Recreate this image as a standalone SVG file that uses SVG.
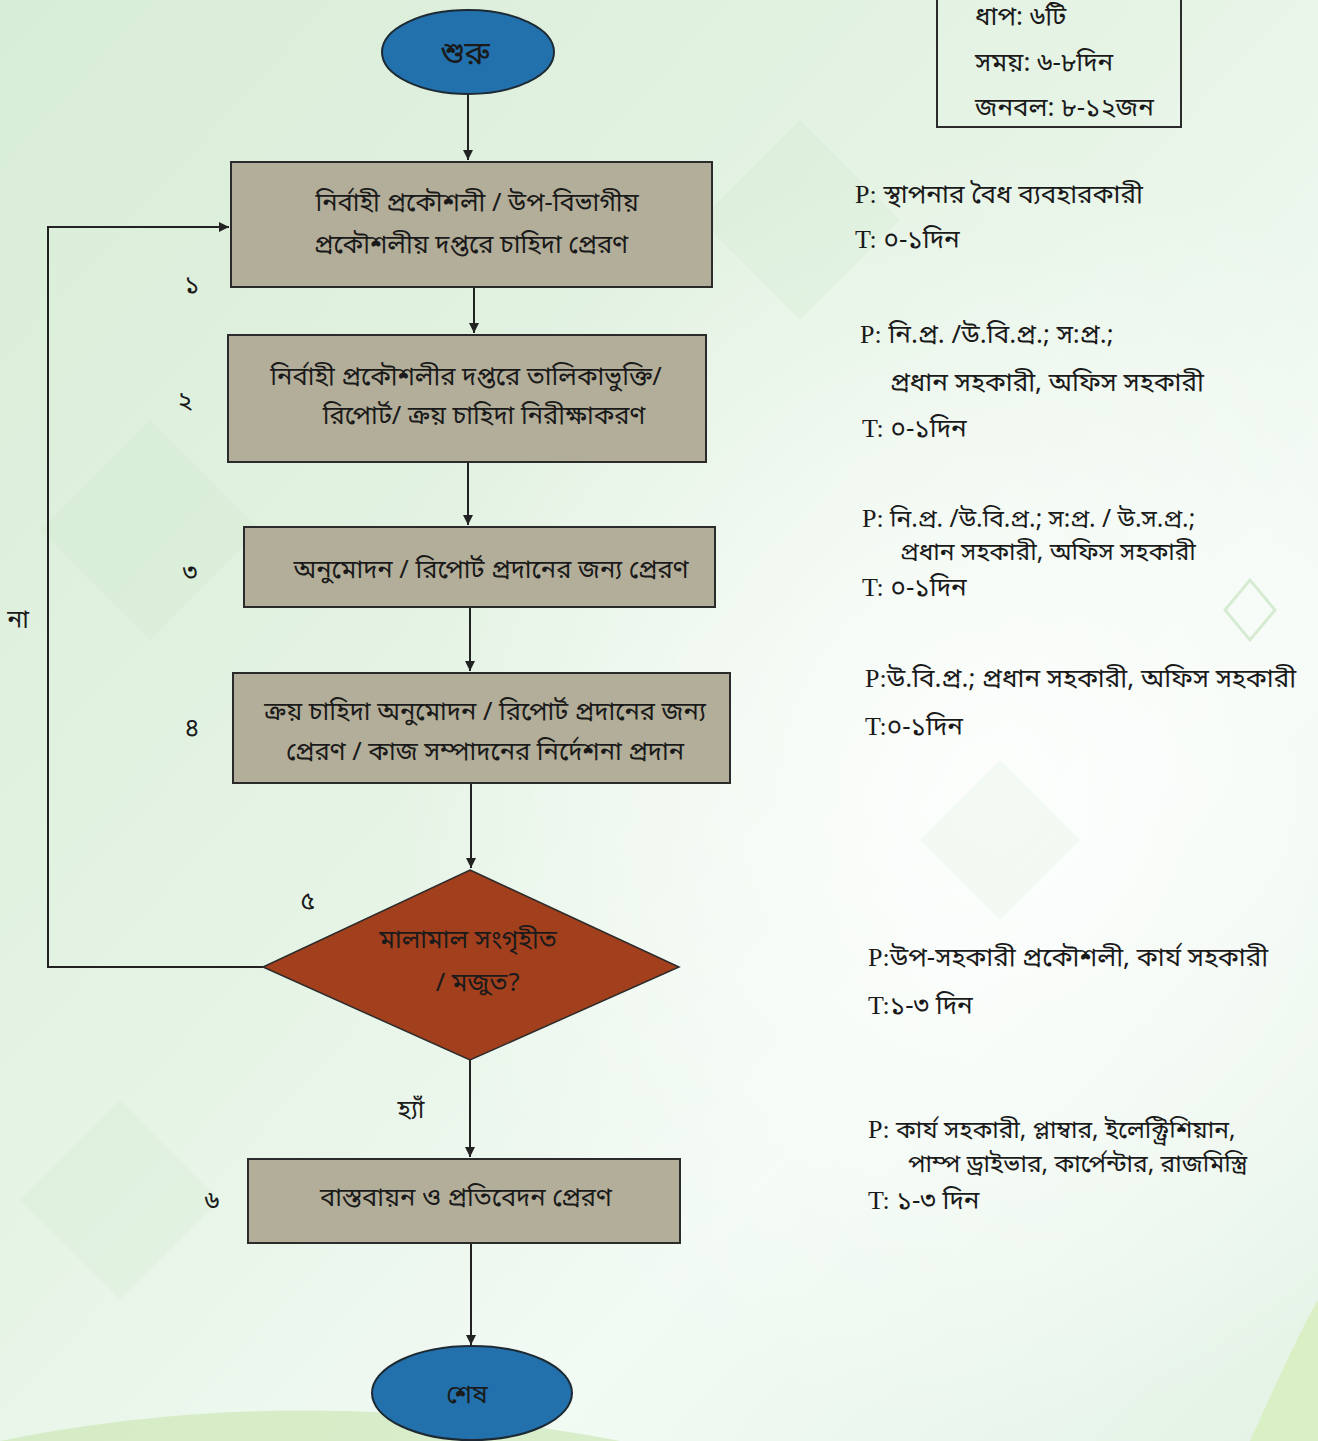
<svg xmlns="http://www.w3.org/2000/svg" width="1318" height="1441" viewBox="0 0 1318 1441">
<defs>
<linearGradient id="bg" x1="0" y1="0" x2="1" y2="1">
<stop offset="0" stop-color="#d8edd6"/>
<stop offset="0.45" stop-color="#e6f4e6"/>
<stop offset="0.7" stop-color="#f2faf4"/>
<stop offset="1" stop-color="#e4f3e6"/>
</linearGradient>
<radialGradient id="glow" cx="0.75" cy="0.55" r="0.45">
<stop offset="0" stop-color="#ffffff" stop-opacity="0.85"/>
<stop offset="1" stop-color="#ffffff" stop-opacity="0"/>
</radialGradient>
<marker id="ah" viewBox="0 0 10 10" refX="10" refY="5" markerWidth="10" markerHeight="10" markerUnits="userSpaceOnUse" orient="auto">
<path d="M0,0 L10,5 L0,10 z" fill="#222"/>
</marker>
<style>
.bn{font-family:'Noto Sans Bengali','Noto Serif Bengali','Noto Sans','Liberation Sans',sans-serif;fill:#1a1a1a}
.box{fill:#b3ae99;stroke:#2b2b2b;stroke-width:2}
.term{fill:#2271ad;stroke:#1d2a33;stroke-width:2}
.dia{fill:#a23f1d;stroke:#2b2b2b;stroke-width:1.5}
.t{font-size:25.5px;text-anchor:middle}
.side{font-size:26px}
.tight{font-size:24.5px}
.pt{font-family:'Liberation Serif','Noto Serif Bengali',serif;font-size:26px;fill:#1a1a1a}
.num{font-size:25px;text-anchor:middle}
.ln{fill:none;stroke:#222;stroke-width:2}
</style>
</defs>
<rect x="0" y="0" width="1318" height="1441" fill="url(#bg)"/>
<rect x="0" y="0" width="1318" height="1441" fill="url(#glow)"/>
<g opacity="0.12" fill="#b5dab2">
<path d="M150,420 L260,530 L150,640 L40,530 z"/>
<path d="M800,120 L900,220 L800,320 L700,220 z"/>
<path d="M1000,760 L1080,840 L1000,920 L920,840 z"/>
<path d="M120,1100 L220,1200 L120,1300 L20,1200 z"/>
</g>
<path d="M0,1441 Q300,1380 620,1441 z" fill="#cde8b8" opacity="0.7"/>
<path d="M1250,1441 Q1300,1330 1318,1300 L1318,1441 z" fill="#d4ecb5" opacity="0.7"/>
<path d="M1225,610 L1250,580 L1275,610 L1250,640 z" fill="none" stroke="#d6ecd2" stroke-width="3"/>

<g id="connectors">
<line class="ln" x1="468" y1="94" x2="468" y2="160" marker-end="url(#ah)"/>
<line class="ln" x1="474" y1="287" x2="474" y2="333" marker-end="url(#ah)"/>
<line class="ln" x1="468" y1="462" x2="468" y2="525" marker-end="url(#ah)"/>
<line class="ln" x1="470" y1="607" x2="470" y2="671" marker-end="url(#ah)"/>
<line class="ln" x1="471" y1="783" x2="471" y2="868" marker-end="url(#ah)"/>
<polyline class="ln" points="263,967 48,967 48,227 229,227" marker-end="url(#ah)"/>
<line class="ln" x1="470" y1="1060" x2="470" y2="1157" marker-end="url(#ah)"/>
<line class="ln" x1="471" y1="1243" x2="471" y2="1345" marker-end="url(#ah)"/>
<text class="bn" x="18" y="628" font-size="25" text-anchor="middle">না</text>
<text class="bn" x="411" y="1118" font-size="25" text-anchor="middle">হ্যাঁ</text>
</g>

<g id="start">
<ellipse class="term" cx="468" cy="52" rx="86" ry="42"/>
<text class="bn t" x="465" y="64" style="font-size:32px">শুরু</text>
</g>

<g id="step1">
<rect class="box" x="231" y="162" width="481" height="125"/>
<text class="bn t" x="477" y="211">নির্বাহী প্রকৌশলী / উপ-বিভাগীয়</text>
<text class="bn t" x="471" y="253">প্রকৌশলীয় দপ্তরে চাহিদা প্রেরণ</text>
<text class="bn num" x="192" y="293">১</text>
</g>

<g id="step2">
<rect class="box" x="228" y="335" width="478" height="127"/>
<text class="bn t" x="466" y="385">নির্বাহী প্রকৌশলীর দপ্তরে তালিকাভুক্তি/</text>
<text class="bn t" x="484" y="424">রিপোর্ট/ ক্রয় চাহিদা নিরীক্ষাকরণ</text>
<text class="bn num" x="185" y="409">২</text>
</g>

<g id="step3">
<rect class="box" x="244" y="527" width="471" height="80"/>
<text class="bn t" x="491" y="578">অনুমোদন / রিপোর্ট প্রদানের জন্য প্রেরণ</text>
<text class="bn num" x="190" y="581">৩</text>
</g>

<g id="step4">
<rect class="box" x="233" y="673" width="497" height="110"/>
<text class="bn t" x="485" y="720">ক্রয় চাহিদা অনুমোদন / রিপোর্ট প্রদানের জন্য</text>
<text class="bn t" x="485" y="760">প্রেরণ / কাজ সম্পাদনের নির্দেশনা প্রদান</text>
<text class="bn num" x="192" y="736">৪</text>
</g>

<g id="step5">
<path class="dia" d="M470,870 L679,967 L470,1060 L263,967 z"/>
<text class="bn t" x="468" y="948">মালামাল সংগৃহীত</text>
<text class="bn t" x="478" y="991">/ মজুত?</text>
<text class="bn num" x="308" y="909">৫</text>
</g>

<g id="step6">
<rect class="box" x="248" y="1159" width="432" height="84"/>
<text class="bn t" x="466" y="1206">বাস্তবায়ন ও প্রতিবেদন প্রেরণ</text>
<text class="bn num" x="212" y="1209">৬</text>
</g>

<g id="end">
<ellipse class="term" cx="472" cy="1393" rx="100" ry="47"/>
<text class="bn t" x="467" y="1403">শেষ</text>
</g>

<g id="summary">
<rect x="937" y="-4" width="244" height="131" fill="none" stroke="#2b2b2b" stroke-width="2"/>
<text class="bn side" x="975" y="25">ধাপ: ৬টি</text>
<text class="bn side" x="975" y="71">সময়: ৬-৮দিন</text>
<text class="bn side" x="975" y="116">জনবল: ৮-১২জন</text>
</g>

<g id="info">
<text x="855" y="203"><tspan class="pt">P:</tspan><tspan class="bn side"> স্থাপনার বৈধ ব্যবহারকারী</tspan></text>
<text x="855" y="248"><tspan class="pt">T:</tspan><tspan class="bn side"> ০-১দিন</tspan></text>

<text x="860" y="343"><tspan class="pt">P:</tspan><tspan class="bn side"> নি.প্র. /উ.বি.প্র.; স:প্র.;</tspan></text>
<text class="bn side" x="890" y="391">প্রধান সহকারী, অফিস সহকারী</text>
<text x="862" y="437"><tspan class="pt">T:</tspan><tspan class="bn side"> ০-১দিন</tspan></text>

<text x="862" y="527"><tspan class="pt">P:</tspan><tspan class="bn tight"> নি.প্র. /উ.বি.প্র.; স:প্র. / উ.স.প্র.;</tspan></text>
<text class="bn tight" x="900" y="560">প্রধান সহকারী, অফিস সহকারী</text>
<text x="862" y="596"><tspan class="pt">T:</tspan><tspan class="bn side"> ০-১দিন</tspan></text>

<text x="865" y="687"><tspan class="pt">P:</tspan><tspan class="bn side">উ.বি.প্র.; প্রধান সহকারী, অফিস সহকারী</tspan></text>
<text x="865" y="735"><tspan class="pt">T:</tspan><tspan class="bn side">০-১দিন</tspan></text>

<text x="868" y="966"><tspan class="pt">P:</tspan><tspan class="bn side">উপ-সহকারী প্রকৌশলী, কার্য সহকারী</tspan></text>
<text x="868" y="1014"><tspan class="pt">T:</tspan><tspan class="bn side">১-৩ দিন</tspan></text>

<text x="868" y="1138"><tspan class="pt">P:</tspan><tspan class="bn tight"> কার্য সহকারী, প্লাম্বার, ইলেক্ট্রিশিয়ান,</tspan></text>
<text class="bn tight" x="908" y="1172">পাম্প ড্রাইভার, কার্পেন্টার, রাজমিস্ত্রি</text>
<text x="868" y="1209"><tspan class="pt">T:</tspan><tspan class="bn side">  ১-৩ দিন</tspan></text>
</g>
</svg>
